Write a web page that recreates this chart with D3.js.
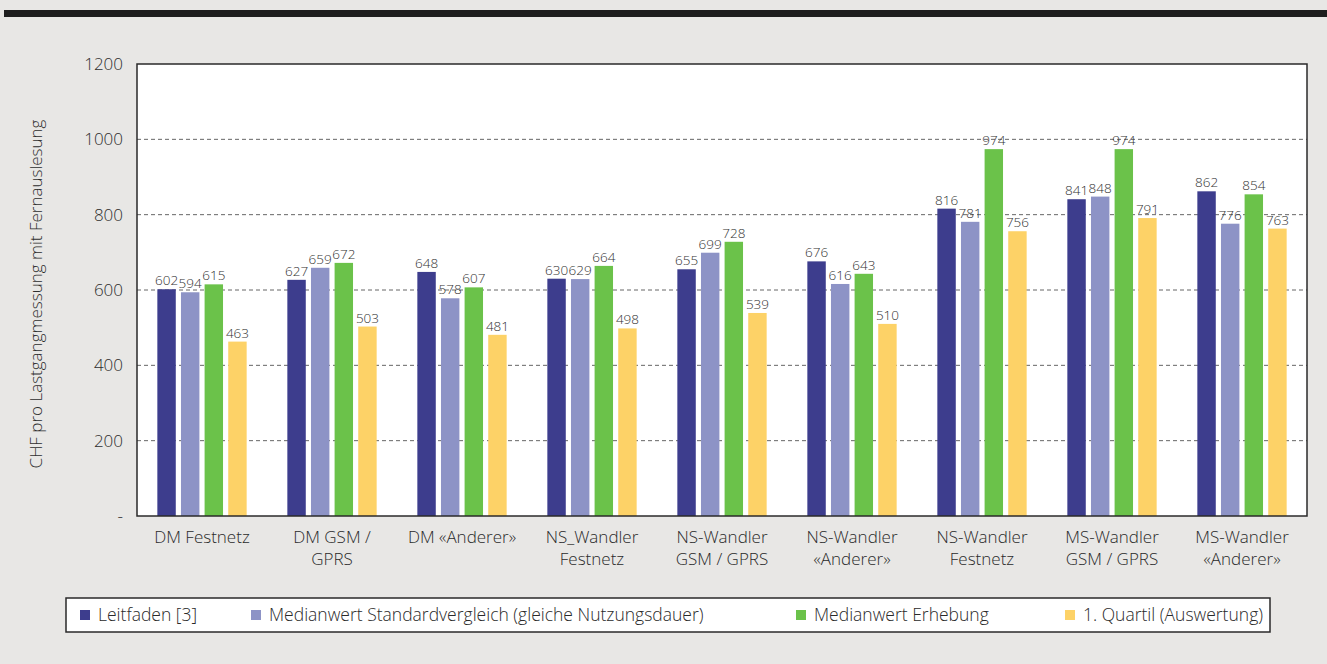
<!DOCTYPE html>
<html>
<head>
<meta charset="utf-8">
<script src="https://cdn.jsdelivr.net/npm/d3@7"></script>
<style>
  html, body { margin: 0; padding: 0; background: #e8e7e5; }
  svg { display: block; font-family: "Open Sans", Lato, sans-serif; font-weight: 300; }
</style>
</head>
<body>
<div class="chart"></div>
<script>
// categories (line breaks as in the original axis)
const categories = [
  ["DM Festnetz"],
  ["DM GSM /", "GPRS"],
  ["DM «Anderer»"],
  ["NS_Wandler", "Festnetz"],
  ["NS-Wandler", "GSM / GPRS"],
  ["NS-Wandler", "«Anderer»"],
  ["NS-Wandler", "Festnetz"],
  ["MS-Wandler", "GSM / GPRS"],
  ["MS-Wandler", "«Anderer»"]
];

const seriesNames = [
  "Leitfaden [3]",
  "Medianwert Standardvergleich (gleiche Nutzungsdauer)",
  "Medianwert Erhebung",
  "1. Quartil (Auswertung)"
];

const leitfaden = [602, 627, 648, 630, 655, 676, 816, 841, 862];
const medianStandard = [594, 659, 578, 629, 699, 616, 781, 848, 776];
const medianErhebung = [615, 672, 607, 664, 728, 643, 974, 974, 854];
const quartil = [463, 503, 481, 498, 539, 510, 756, 791, 763];

const yTicks = [0, 200, 400, 600, 800, 1000, 1200];
const colors = ["#3d3d8d", "#8d93c6", "#6bc24a", "#fdd267"];

var cfg = {
  width: 1327,
  height: 664,
  plot: {left: 137, right: 1307, top: 64, bottom: 516}
};

const allSeries = [leitfaden, medianStandard, medianErhebung, quartil];

var svg = d3.select(".chart").append("svg")
  .attr("width", cfg.width)
  .attr("height", cfg.height);

// top black bar
svg.append("rect")
  .attr("x", 4).attr("y", 10)
  .attr("width", cfg.width - 4).attr("height", 7)
  .attr("fill", "#1e1e1e");

var x0 = d3.scaleBand()
  .domain(d3.range(categories.length))
  .range([cfg.plot.left, cfg.plot.right])
  .paddingInner(0.313)
  .paddingOuter(0.1565);

var x1 = d3.scaleBand()
  .domain(d3.range(seriesNames.length))
  .range([0, x0.bandwidth()])
  .paddingInner(0.22);

var y = d3.scaleLinear()
  .domain([0, 1200])
  .range([cfg.plot.bottom, cfg.plot.top]);

// plot background
svg.append("rect")
  .attr("x", cfg.plot.left).attr("y", cfg.plot.top)
  .attr("width", cfg.plot.right - cfg.plot.left)
  .attr("height", cfg.plot.bottom - cfg.plot.top)
  .attr("fill", "#fff");

// dashed grid lines
svg.append("g")
  .selectAll("line")
  .data(yTicks.filter(d => d > 0 && d < 1200))
  .enter().append("line")
  .attr("x1", cfg.plot.left).attr("x2", cfg.plot.right)
  .attr("y1", d => y(d)).attr("y2", d => y(d))
  .attr("stroke", "#666")
  .attr("stroke-width", 1)
  .attr("stroke-dasharray", "4,3");

// y axis labels
svg.append("g")
  .selectAll("text")
  .data(yTicks)
  .enter().append("text")
  .attr("x", 123)
  .attr("y", d => y(d))
  .attr("dy", "0.35em")
  .attr("text-anchor", "end")
  .style("font-size", "17px")
  .style("fill", "#2e2e2e")
  .text(d => d === 0 ? "-" : d);

// y axis title
svg.append("text")
  .attr("transform", `translate(42, ${(cfg.plot.top + cfg.plot.bottom) / 2 + 4}) rotate(-90)`)
  .attr("text-anchor", "middle")
  .style("font-size", "17px")
  .style("fill", "#2e2e2e")
  .text("CHF pro Lastgangmessung mit Fernauslesung");

// bars
var groups = svg.append("g")
  .selectAll("g")
  .data(categories.map((c, i) => i))
  .enter().append("g")
  .attr("transform", i => `translate(${x0(i)},0)`);

groups.selectAll("rect")
  .data(i => allSeries.map((s, k) => ({k: k, v: s[i]})))
  .enter().append("rect")
  .attr("x", d => x1(d.k))
  .attr("y", d => y(d.v))
  .attr("width", x1.bandwidth())
  .attr("height", d => y(0) - y(d.v))
  .attr("fill", d => colors[d.k]);

// value labels
groups.selectAll("text")
  .data(i => allSeries.map((s, k) => ({k: k, v: s[i]})))
  .enter().append("text")
  .attr("x", d => x1(d.k) + x1.bandwidth() / 2)
  .attr("y", d => y(d.v) - 4)
  .attr("text-anchor", "middle")
  .style("font-size", "13.5px")
  .style("fill", "#333")
  .text(d => d.v);

// plot border
svg.append("rect")
  .attr("x", cfg.plot.left).attr("y", cfg.plot.top)
  .attr("width", cfg.plot.right - cfg.plot.left)
  .attr("height", cfg.plot.bottom - cfg.plot.top)
  .attr("fill", "none")
  .attr("stroke", "#2a2a2a")
  .attr("stroke-width", 1.5);

// category labels
var catLabels = svg.append("g")
  .selectAll("text")
  .data(categories)
  .enter().append("text")
  .attr("x", (d, i) => x0(i) + x0.bandwidth() / 2)
  .attr("y", 543)
  .attr("text-anchor", "middle")
  .style("font-size", "17px")
  .style("fill", "#2a2a2a");

catLabels.selectAll("tspan")
  .data(d => d)
  .enter().append("tspan")
  .attr("x", function() { return d3.select(this.parentNode).attr("x"); })
  .attr("dy", (d, j) => j === 0 ? 0 : 22)
  .text(d => d);

// legend
var legend = svg.append("g");
legend.append("rect")
  .attr("x", 66).attr("y", 598)
  .attr("width", 1204).attr("height", 34)
  .attr("fill", "#fff")
  .attr("stroke", "#2a2a2a")
  .attr("stroke-width", 1.5);

const legendX = [80, 251, 796, 1065];
var items = legend.selectAll("g.item")
  .data(seriesNames)
  .enter().append("g")
  .attr("class", "item")
  .attr("transform", (d, i) => `translate(${legendX[i]},615)`);

items.append("rect")
  .attr("x", 0).attr("y", -5)
  .attr("width", 10).attr("height", 10)
  .attr("fill", (d, i) => colors[i]);

items.append("text")
  .attr("x", 18)
  .attr("dy", "0.35em")
  .style("font-size", "17.5px")
  .style("fill", "#2a2a2a")
  .text(d => d);
</script>
</body>
</html>
